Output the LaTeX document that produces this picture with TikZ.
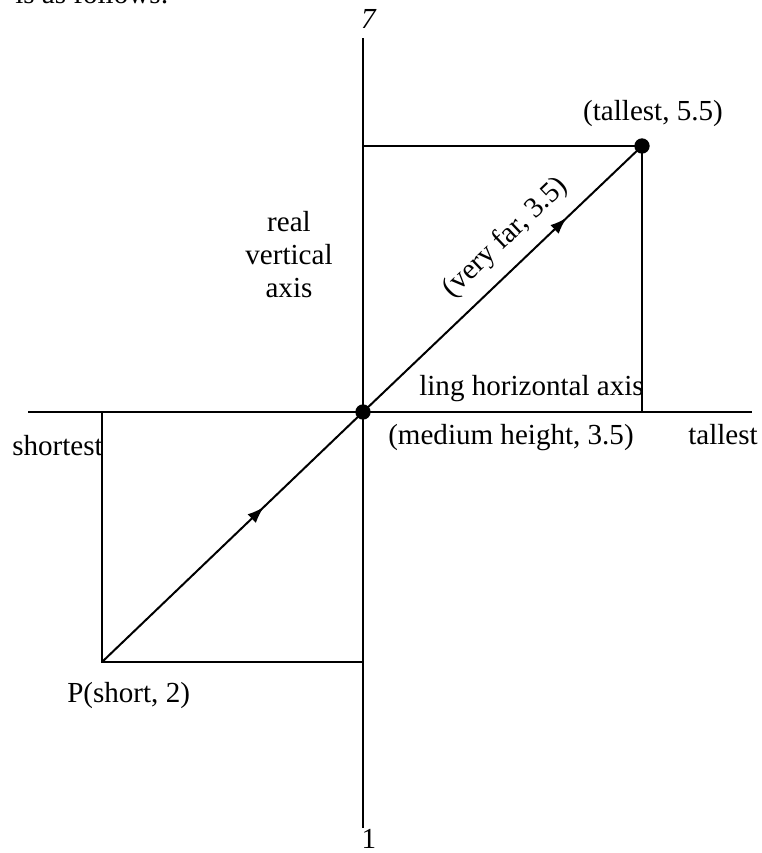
\documentclass[tikz,border=0pt]{standalone}
\usepackage{fontspec}
\setmainfont{Liberation Serif}
\usetikzlibrary{arrows.meta,decorations.markings,positioning}
\tikzset{
  >={Latex[length=12.5pt,width=9pt]},
  axisline/.style={line width=1.5pt},
  guide/.style={line width=1.5pt},
  vec/.style={line width=1.5pt,postaction={decorate},
              decoration={markings,mark=at position #1 with {\arrow{>}}}},
  dot/.style={circle,fill=black,inner sep=0pt,minimum size=11.5pt},
  lbl/.style={font=\fontsize{21.8}{24.75}\selectfont,inner sep=0pt,align=center}
}
\begin{document}
\begin{tikzpicture}[x=0.75pt,y=-0.75pt]
  \clip (0,0) rectangle (761,853);
  \node[lbl,anchor=base west] (intro) at (15,3) {is as follows:};
  \coordinate (vtop) at (363,38);
  \coordinate (vbot) at (363,828);
  \coordinate (hleft) at (28,412);
  \coordinate (hright) at (752,412);
  \node[dot] (O) at (363,412) {};
  \node[dot] (T) at (642,146) {};
  \coordinate (P) at (102,662);
  \coordinate (Ty) at (363,146);
  \coordinate (Tx) at (642,412);
  \coordinate (Px) at (102,412);
  \coordinate (Py) at (363,662);
  \draw[axisline] (vtop) -- (vbot);
  \draw[axisline] (hleft) -- (hright);
  \draw[guide] (Ty) -- (T.center) -- (Tx);
  \draw[guide] (Px) -- (P) -- (Py);
  \draw[vec=0.62] (P) -- (O.center);
  \draw[vec=0.73] (O.center) -- (T.center)
    node[lbl,pos=0.58,sloped,above=10pt] (far) {(very far, 3.5)};
  \node[lbl,anchor=base] (top) at (369,28) {\textit{7}};
  \node[lbl,anchor=base] (bottom) at (369,848) {1};
  \node[lbl,anchor=base] (tlabel) at (653,120) {(tallest, 5.5)};
  \node[lbl] (vaxis) at (289,255) {real\\vertical\\axis};
  \node[lbl,anchor=base east] (haxis) at (644,395) {ling horizontal axis};
  \node[lbl,anchor=base west] (olabel) at (388,444) {(medium height, 3.5)};
  \node[lbl,anchor=base west] (tallest) at (688,444) {tallest};
  \node[lbl,anchor=base east] (shortest) at (103,455) {shortest};
  \node[lbl,anchor=base west] (plabel) at (67,702) {P(short, 2)};
\end{tikzpicture}
\end{document}
